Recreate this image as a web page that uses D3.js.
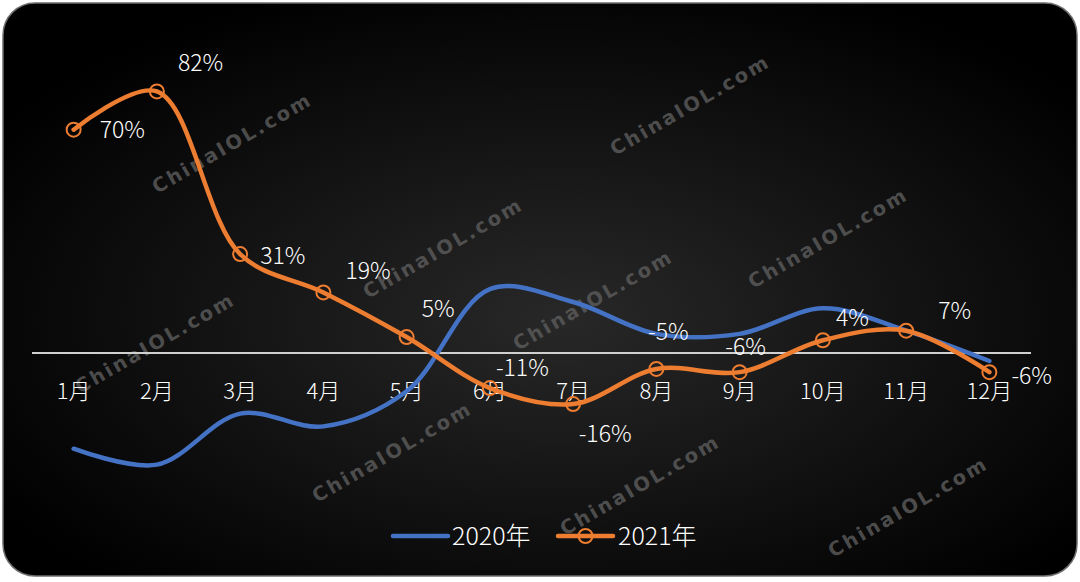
<!DOCTYPE html>
<html>
<head>
<meta charset="utf-8">
<script src="https://cdn.jsdelivr.net/npm/d3@7"></script>
<style>
  html, body { margin: 0; padding: 0; background: #fff; }
  svg { display: block; }
  text { font-family: "Noto Sans CJK SC", "Noto Sans", sans-serif; }
</style>
</head>
<body>
<div id="chart"></div>
<script>
// data
const months = ['1月', '2月', '3月', '4月', '5月', '6月', '7月', '8月', '9月', '10月', '11月', '12月'];
const growth2020 = [-30, -35, -19, -23, -12, 20, 16, 6, 6, 14, 7, -2.5];
const growth2021 = [70, 82, 31, 19, 5, -11, -16, -5, -6, 4, 7, -6];
const seriesNames = ['2020年', '2021年'];

// where each 2021 label sits relative to its point
const labelOffsets = [
  [26, 0, 'start'], [21, -28, 'start'], [20, 2, 'start'], [22, -21, 'start'],
  [15, -28, 'start'], [6, -20, 'start'], [32, 30, 'middle'], [12, -37, 'middle'],
  [6, -25, 'middle'], [13, -22, 'start'], [32, -20, 'start'], [22, 4, 'start']
];
const watermarks = [
  [232, 143], [443, 248], [690, 105], [593, 300], [828, 238],
  [155, 343], [392, 452], [640, 485], [908, 507]
];

const width = 1080, height = 582;
const blue = '#4472C4', orange = '#ED7D31';

const svg = d3.select('#chart')
  .append('svg')
    .attr('width', width)
    .attr('height', height);

// background card
const defs = svg.append('defs');
const grad = defs.append('radialGradient')
    .attr('id', 'bg')
    .attr('cx', '52%').attr('cy', '55%').attr('r', '62%');
grad.append('stop').attr('offset', '0%').attr('stop-color', '#282828');
grad.append('stop').attr('offset', '100%').attr('stop-color', '#000');

svg.append('rect')
    .attr('x', 3).attr('y', 3)
    .attr('width', 1074).attr('height', 573)
    .attr('rx', 32)
    .attr('fill', 'url(#bg)')
    .attr('stroke', '#6e6e6e')
    .attr('stroke-width', 1.5);

// watermarks
svg.append('g')
  .selectAll('text')
  .data(watermarks)
  .enter()
    .append('text')
      .attr('transform', d => `translate(${d[0]},${d[1]}) rotate(-30)`)
      .attr('text-anchor', 'middle')
      .attr('dy', '0.35em')
      .style('font-family', '"DejaVu Sans", sans-serif')
      .style('font-weight', 'bold')
      .style('font-size', '19.5px')
      .style('letter-spacing', '2.5px')
      .attr('fill', '#5e5e5e')
      .attr('fill-opacity', 0.8)
      .text('ChinaIOL.com');

const x = d3.scaleBand()
    .domain(months)
    .range([32, 1031]);
const y = d3.scaleLinear()
    .domain([-60, 100])
    .range([353 + 60 * 3.19, 353 - 100 * 3.19]);

const cx = m => x(m) + x.bandwidth() / 2;

// zero line
svg.append('line')
    .attr('x1', x.range()[0]).attr('x2', x.range()[1])
    .attr('y1', y(0)).attr('y2', y(0))
    .attr('stroke', '#d0d0d0')
    .attr('stroke-width', 2);

// month labels
svg.append('g')
  .selectAll('text')
  .data(months)
  .enter()
    .append('text')
      .attr('x', d => cx(d))
      .attr('y', 391)
      .attr('dy', '0.35em')
      .attr('text-anchor', 'middle')
      .attr('fill', '#fff')
      .style('font-size', '22px')
      .style('font-weight', 300)
      .text(d => d);

const line = d3.line()
    .x((d, i) => cx(months[i]))
    .y(d => y(d))
    .curve(d3.curveCatmullRom.alpha(0.5));

svg.append('path')
    .attr('d', line(growth2020))
    .attr('fill', 'none')
    .attr('stroke', blue)
    .attr('stroke-width', 4.5)
    .attr('stroke-linecap', 'round');

svg.append('path')
    .attr('d', line(growth2021))
    .attr('fill', 'none')
    .attr('stroke', orange)
    .attr('stroke-width', 4.5)
    .attr('stroke-linecap', 'round');

svg.append('g')
  .selectAll('circle')
  .data(growth2021)
  .enter()
    .append('circle')
      .attr('cx', (d, i) => cx(months[i]))
      .attr('cy', d => y(d))
      .attr('r', 7)
      .attr('fill', 'none')
      .attr('stroke', orange)
      .attr('stroke-width', 2);

svg.append('g')
  .selectAll('text')
  .data(growth2021)
  .enter()
    .append('text')
      .attr('x', (d, i) => cx(months[i]) + labelOffsets[i][0])
      .attr('y', (d, i) => y(d) + labelOffsets[i][1])
      .attr('dy', '0.35em')
      .attr('text-anchor', (d, i) => labelOffsets[i][2])
      .attr('fill', '#fff')
      .style('font-size', '23px')
      .style('font-weight', 300)
      .text(d => d + '%');

// legend
const legend = svg.append('g').attr('transform', 'translate(0,536)');
legend.append('line')
    .attr('x1', 393).attr('x2', 448)
    .attr('stroke', blue).attr('stroke-width', 4.5).attr('stroke-linecap', 'round');
legend.append('text')
    .attr('x', 452).attr('dy', '0.35em')
    .attr('fill', '#fff')
    .style('font-size', '25px').style('font-weight', 300)
    .text(seriesNames[0]);
legend.append('line')
    .attr('x1', 558).attr('x2', 613)
    .attr('stroke', orange).attr('stroke-width', 4.5).attr('stroke-linecap', 'round');
legend.append('circle')
    .attr('cx', 585.5).attr('r', 7)
    .attr('fill', 'none').attr('stroke', orange).attr('stroke-width', 2);
legend.append('text')
    .attr('x', 618).attr('dy', '0.35em')
    .attr('fill', '#fff')
    .style('font-size', '25px').style('font-weight', 300)
    .text(seriesNames[1]);
</script>
</body>
</html>
